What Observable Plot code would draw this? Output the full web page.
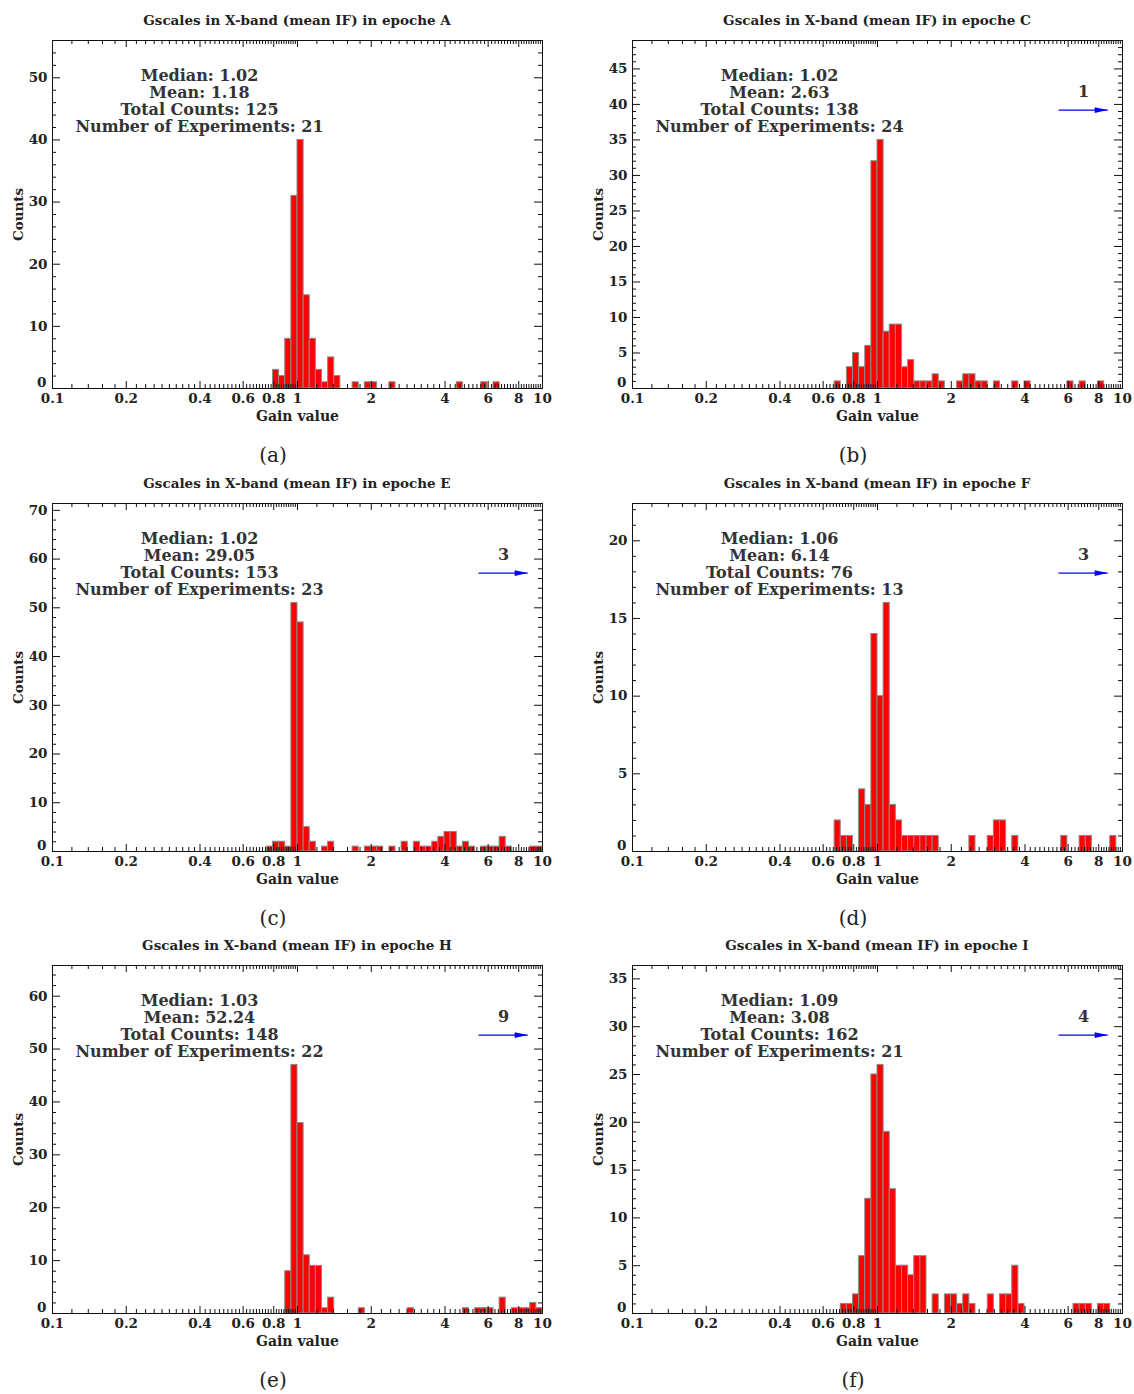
<!DOCTYPE html>
<html><head><meta charset="utf-8">
<script src="https://cdn.jsdelivr.net/npm/d3@7"></script>
<script src="https://cdn.jsdelivr.net/npm/@observablehq/plot@0.6"></script>
<style>
body{margin:0;background:#fff;}
#fig{position:relative;width:1134px;height:1394px;font-family:"DejaVu Serif",serif;color:#222;background:#fff;}
.panel{position:absolute;width:554px;height:462px;}
.title{position:absolute;left:52px;width:490px;top:10px;text-align:center;font-size:13.5px;font-weight:bold;line-height:20px;white-space:nowrap;}
.chart{position:absolute;left:0;top:30px;}
.caption{position:absolute;left:0;width:546px;top:442px;text-align:center;font-size:20px;line-height:26px;}
</style></head><body><div id="fig"></div>
<script>
// ---- data: histogram bins are equal in log10(gain); bin k spans 10^(-1+0.025k) .. 10^(-1+0.025(k+1))
const logMin = -1, binW = 0.025;

const epochs = ["A", "C", "E", "F", "H", "I"];
const captions = ["(a)", "(b)", "(c)", "(d)", "(e)", "(f)"];

const binsA   = [36,37,38,39,40,41,42,43,44,45,46,49,51,52,55,66,70,72];
const countsA = [3,2,8,31,40,15,8,3,1,5,2,1,1,1,1,1,1,1];

const binsC   = [33,35,36,37,38,39,40,41,42,43,44,45,46,47,48,49,50,53,54,55,56,57,59,62,64,71,73,76];
const countsC = [1,3,5,3,6,32,35,8,9,9,3,4,1,1,1,2,1,1,2,2,1,1,1,1,1,1,1,1];

const binsE   = [35,36,37,38,39,40,41,42,44,45,49,51,52,53,55,57,59,60,61,62,63,64,65,66,67,68,70,71,72,73,74,78,79];
const countsE = [1,2,2,1,51,47,5,2,1,2,1,1,1,1,1,2,2,1,1,2,3,4,4,1,2,1,1,1,1,3,1,1,1];

const binsF   = [33,34,35,37,38,39,40,41,42,43,44,45,46,47,48,49,55,58,59,60,62,70,73,74,78];
const countsF = [2,1,1,4,3,14,10,16,3,2,1,1,1,1,1,1,1,1,2,2,1,1,1,1,1];

const binsH   = [38,39,40,41,42,43,44,45,50,58,67,69,70,71,73,75,76,77,78,79];
const countsH = [8,47,36,11,9,9,1,3,1,1,1,1,1,1,3,1,1,1,2,1];

const binsI   = [34,35,36,37,38,39,40,41,42,43,44,45,46,47,49,51,52,53,54,55,58,60,61,62,63,72,73,74,76,77];
const countsI = [1,1,2,6,12,25,26,19,13,5,5,4,6,6,2,2,2,1,2,1,2,2,2,5,1,1,1,1,1,1];

const allBins   = [binsA, binsC, binsE, binsF, binsH, binsI];
const allCounts = [countsA, countsC, countsE, countsF, countsH, countsI];

const medians  = ["1.02", "1.02", "1.02", "1.06", "1.03", "1.09"];
const means    = ["1.18", "2.63", "29.05", "6.14", "52.24", "3.08"];
const totals   = [125, 138, 153, 76, 148, 162];
const nExps    = [21, 24, 23, 13, 22, 21];
const overflow = [0, 1, 3, 3, 9, 4];   // counts above 10 (arrow)

const yMax      = [56, 49, 71.4, 22.4, 65.8, 36.4];
const yMajorStp = [10, 5, 10, 5, 10, 5];
const yMinorStp = [2, 1, 2, 1, 2, 1];

const xTickLabels = [0.1, 0.2, 0.4, 0.6, 0.8, 1, 2, 4, 6, 8, 10];
const xMinorTicks = [...d3.range(5, 51).map(i => i / 50), ...d3.range(5, 51).map(i => i / 5)]
  .filter(v => !xTickLabels.includes(+v.toFixed(4)));

// overflow arrow annotation (gain values / fraction of y range)
const arrowFrom = 5.48, arrowTo = 8.7, arrowLevel = 0.80, arrowLabelX = 6.93, arrowLabelLevel = 0.853;

// ---- layout
const colLeft = [0, 580];
const rowTop  = [0, 463, 925];
const frameW = 490, frameH = 348;
const FONT = "DejaVu Serif";

const headShape = {draw(ctx) { ctx.moveTo(6.5, 0); ctx.lineTo(-6.5, -2.8); ctx.lineTo(-6.5, 2.8); ctx.closePath(); }};

function makePanel(i) {
  const data = allBins[i].map((k, j) => ({
    lo: 10 ** (logMin + k * binW),
    hi: 10 ** (logMin + (k + 1) * binW),
    count: allCounts[i][j]
  }));
  const ym = yMax[i];
  const yMajor = d3.range(0, ym + 1e-9, yMajorStp[i]);
  const yMinor = d3.range(0, ym + 1e-9, yMinorStp[i]).filter(v => !yMajor.includes(v));
  const stats = `Median: ${medians[i]}\nMean: ${means[i]}\nTotal Counts: ${totals[i]}\nNumber of Experiments: ${nExps[i]}`;

  const marks = [
    Plot.rectY(data, {x1: "lo", x2: "hi", y: "count", fill: "#ff0000", stroke: "#8a8a8a", strokeWidth: 1}),
    // x ticks bottom & top (inward)
    Plot.tickX(xTickLabels, {x: d => d, insetTop: frameH - 7, stroke: "#111"}),
    Plot.tickX(xTickLabels, {x: d => d, insetBottom: frameH - 7, stroke: "#111"}),
    Plot.tickX(xMinorTicks, {x: d => d, insetTop: frameH - 4, stroke: "#111"}),
    Plot.tickX(xMinorTicks, {x: d => d, insetBottom: frameH - 4, stroke: "#111"}),
    // y ticks left & right (inward)
    Plot.tickY(yMajor, {y: d => d, insetRight: frameW - 8, stroke: "#111"}),
    Plot.tickY(yMajor, {y: d => d, insetLeft: frameW - 8, stroke: "#111"}),
    Plot.tickY(yMinor, {y: d => d, insetRight: frameW - 4, stroke: "#111"}),
    Plot.tickY(yMinor, {y: d => d, insetLeft: frameW - 4, stroke: "#111"}),
    Plot.frame({stroke: "#111", strokeWidth: 1}),
    // tick labels
    Plot.text(xTickLabels, {x: d => d, text: d => String(d), frameAnchor: "bottom", dy: 14, textAnchor: "middle", fontWeight: "bold", fontSize: 13.5, fill: "#222"}),
    Plot.text(yMajor.filter(v => v > 0), {y: d => d, text: d => String(d), frameAnchor: "left", dx: -5, textAnchor: "end", fontWeight: "bold", fontSize: 13.5, fill: "#222"}),
    Plot.text([0], {y: d => d, text: d => String(d), frameAnchor: "left", dx: -6, dy: -6, textAnchor: "end", fontWeight: "bold", fontSize: 13.5, fill: "#222"}),
    // axis labels
    Plot.text(["Gain value"], {text: d => d, frameAnchor: "bottom", dy: 32, textAnchor: "middle", fontWeight: "bold", fontSize: 14, fill: "#222"}),
    Plot.text(["Counts"], {text: d => d, frameAnchor: "left", dx: -34, rotate: -90, textAnchor: "middle", fontWeight: "bold", fontSize: 13.5, fill: "#222"}),
    // statistics
    Plot.text([stats], {text: d => d, frameAnchor: "top-left", dx: 147, dy: 28, textAnchor: "middle", lineAnchor: "top", lineHeight: 1.07, fontSize: 16, fontWeight: "bold", fill: "#333"})
  ];
  if (overflow[i] > 0) {
    marks.push(
      Plot.link([overflow[i]], {x1: () => arrowFrom, x2: () => arrowTo, y1: () => ym * arrowLevel, y2: () => ym * arrowLevel, stroke: "#0000ff", strokeWidth: 1.2}),
      Plot.dot([overflow[i]], {x: () => arrowTo, y: () => ym * arrowLevel, symbol: headShape, r: 4, dx: -6.5, fill: "#0000ff", stroke: "none"}),
      Plot.text([overflow[i]], {x: () => arrowLabelX, y: () => ym * arrowLabelLevel, text: d => String(d), fontSize: 16, fontWeight: "bold", fill: "#333"})
    );
  }
  return Plot.plot({
    width: 554, height: 402,
    marginLeft: 52, marginRight: 12, marginTop: 10, marginBottom: 44,
    x: {type: "log", domain: [0.1, 10], axis: null},
    y: {domain: [0, ym], axis: null},
    style: {fontFamily: FONT, fontSize: "13px", color: "#222", background: "white", overflow: "visible"},
    marks
  });
}

const fig = document.getElementById("fig");
for (let i = 0; i < 6; i++) {
  const div = document.createElement("div");
  div.className = "panel";
  div.style.left = colLeft[i % 2] + "px";
  div.style.top = rowTop[Math.floor(i / 2)] + "px";
  const t = document.createElement("div");
  t.className = "title";
  t.textContent = `Gscales in X-band (mean IF) in epoche ${epochs[i]}`;
  const c = document.createElement("div");
  c.className = "chart";
  c.appendChild(makePanel(i));
  const cap = document.createElement("div");
  cap.className = "caption";
  cap.textContent = captions[i];
  div.appendChild(t); div.appendChild(c); div.appendChild(cap);
  fig.appendChild(div);
}
</script></body></html>
